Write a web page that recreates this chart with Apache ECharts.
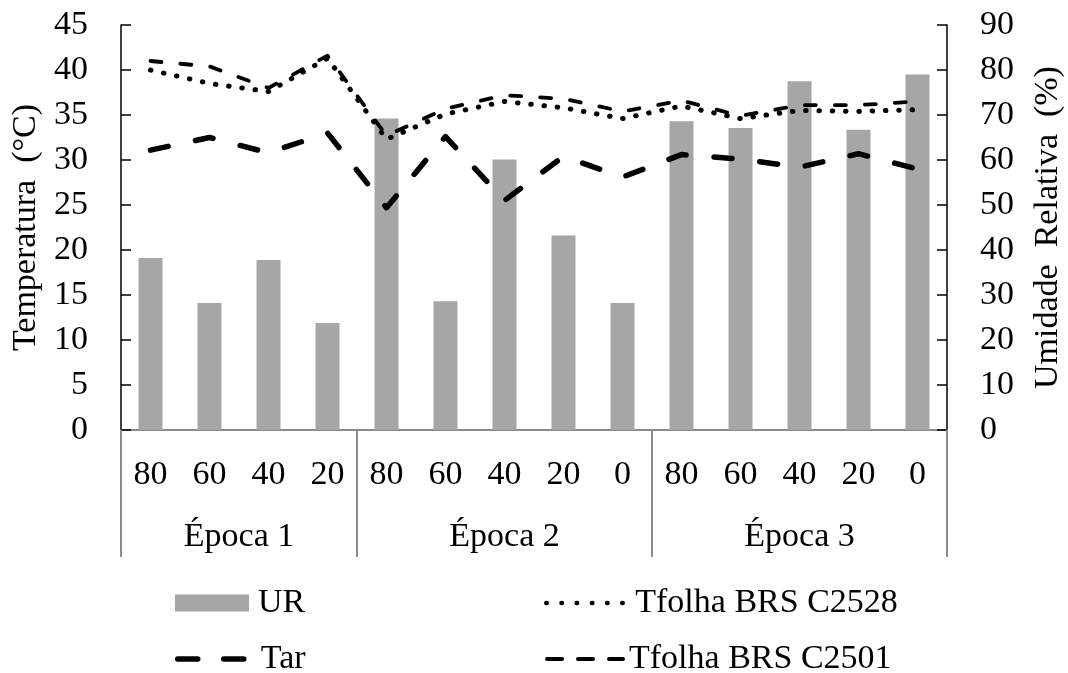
<!DOCTYPE html>
<html>
<head>
<meta charset="utf-8">
<script src="https://cdn.jsdelivr.net/npm/echarts@6/dist/echarts.min.js"></script>
<style>
html,body{margin:0;padding:0;background:#fff;}
#chart{width:1068px;height:673px;}
</style>
</head>
<body>
<div id="chart"></div>
<script>
// ---- data ----
var categories = ["80","60","40","20","80","60","40","20","0","80","60","40","20","0"];
var groups = ["Época 1","Época 2","Época 3"];
var groupSizes = [4,5,5];
var UR = [38.2,28.2,37.8,23.8,69.2,28.6,60.1,43.2,28.2,68.6,67.1,77.5,66.7,79.0];
var Tar = [31.1,32.5,30.8,33.0,24.7,32.6,25.5,30.4,28.1,30.6,30.1,29.2,30.7,29.0];
var C2528 = [40.0,38.5,37.6,41.3,32.3,35.1,36.5,35.8,34.6,36.0,34.6,35.5,35.4,35.6];
var C2501 = [41.0,40.4,38.0,41.6,32.7,35.7,37.2,36.8,35.4,36.6,34.9,36.1,36.1,36.5];
var leftTicks = {min:0,max:45,interval:5};
var rightTicks = {min:0,max:90,interval:10};

// group boundaries and centres (in category units)
var bounds = [0], centers = [], acc = 0;
groupSizes.forEach(function(n){ centers.push(acc + n/2); acc += n; bounds.push(acc); });

var FONT = "Liberation Serif";
var chart = echarts.init(document.getElementById('chart'));
var txt = {fontFamily: FONT, fontSize: 34, color: '#000', lineHeight: 34};
var legTxt = function(pad){ return {fontFamily: FONT, fontSize: 34, color: '#000', lineHeight: 30, padding: [0,0,0,pad]}; };

var styles = {
  Tar:   {color: '#000', width: 5.5, type: [18, 28], cap: 'round', join: 'round'},
  C2528: {color: '#000', width: 5, type: [0.5, 12.8], cap: 'round', join: 'round'},
  C2501: {color: '#000', width: 3.8, type: [11, 19], cap: 'round', join: 'round'}
};

chart.setOption({
  animation: false,
  backgroundColor: '#fff',
  textStyle: {fontFamily: FONT},
  grid: {left: 121, right: 121, top: 25, bottom: 243, containLabel: false, outerBoundsMode: 'none'},
  legend: [
    { left: 175, top: 586, padding: 0, itemWidth: 74, itemHeight: 17, textStyle: legTxt(4),
      data: [{name: 'UR', icon: 'rect'}] },
    { left: 175, top: 642, padding: 0, itemWidth: 70, itemHeight: 17, textStyle: legTxt(8),
      itemStyle: {opacity: 0},
      lineStyle: {color: '#000', width: 5.5, type: [20, 26], cap: 'round'},
      data: ['Tar'] },
    { left: 544, top: 586, padding: 0, itemWidth: 78, itemHeight: 17, textStyle: legTxt(6),
      itemStyle: {opacity: 0},
      lineStyle: {color: '#000', width: 4.5, type: [0.5, 14.7], cap: 'round'},
      data: ['Tfolha BRS C2528'] },
    { left: 545, top: 642, padding: 0, itemWidth: 76, itemHeight: 17, textStyle: legTxt(1),
      itemStyle: {opacity: 0},
      lineStyle: {color: '#000', width: 4, type: [15, 16], cap: 'round'},
      data: ['Tfolha BRS C2501'] }
  ],
  xAxis: [
    {
      type: 'category', data: categories, position: 'bottom',
      boundaryGap: true,
      axisLine: {show: true, lineStyle: {color: '#8c8c8c', width: 2}},
      axisTick: {show: false},
      axisLabel: Object.assign({}, txt, {margin: 28, interval: 0}),
      splitLine: {show: false}
    },
    {
      type: 'value', min: 0, max: categories.length, position: 'bottom',
      axisLine: {show: false},
      splitLine: {show: false},
      axisTick: {show: true, customValues: bounds, length: 127, inside: false,
                 lineStyle: {color: '#8c8c8c', width: 2}},
      axisLabel: Object.assign({}, txt, {
        customValues: centers, margin: 90,
        formatter: function(v){ var i = centers.indexOf(v); return i >= 0 ? groups[i] : ''; }
      })
    }
  ],
  yAxis: [
    {
      type: 'value', min: leftTicks.min, max: leftTicks.max, interval: leftTicks.interval,
      position: 'left',
      name: 'Temperatura  (°C)', nameLocation: 'middle', nameGap: 75, nameRotate: 90,
      nameTextStyle: Object.assign({}, txt),
      axisLine: {show: true, lineStyle: {color: '#000', width: 1.5}},
      axisTick: {show: true, inside: true, length: 10, lineStyle: {color: '#000', width: 1.5}},
      axisLabel: Object.assign({}, txt, {margin: 33}),
      splitLine: {show: false}
    },
    {
      type: 'value', min: rightTicks.min, max: rightTicks.max, interval: rightTicks.interval,
      position: 'right',
      name: 'Umidade  Relativa  (%)', nameLocation: 'middle', nameGap: 84, nameRotate: 90,
      nameTextStyle: Object.assign({}, txt),
      axisLine: {show: true, lineStyle: {color: '#000', width: 1.5}},
      axisTick: {show: true, inside: true, length: 10, lineStyle: {color: '#000', width: 1.5}},
      axisLabel: Object.assign({}, txt, {margin: 33}),
      splitLine: {show: false}
    }
  ],
  series: [
    {
      name: 'UR', type: 'bar', xAxisIndex: 0, yAxisIndex: 1, data: UR,
      barWidth: 24, itemStyle: {color: '#a6a6a6'}
    },
    {
      name: 'Tfolha BRS C2528', type: 'line', xAxisIndex: 0, yAxisIndex: 0, data: C2528,
      symbol: 'none', showSymbol: false, itemStyle: {color: '#000'},
      lineStyle: styles.C2528
    },
    {
      name: 'Tfolha BRS C2501', type: 'line', xAxisIndex: 0, yAxisIndex: 0, data: C2501,
      symbol: 'none', showSymbol: false, itemStyle: {color: '#000'},
      lineStyle: styles.C2501
    },
    {
      name: 'Tar', type: 'line', xAxisIndex: 0, yAxisIndex: 0, data: Tar,
      symbol: 'none', showSymbol: false, itemStyle: {color: '#000'},
      lineStyle: styles.Tar
    }
  ]
});
</script>
</body>
</html>
